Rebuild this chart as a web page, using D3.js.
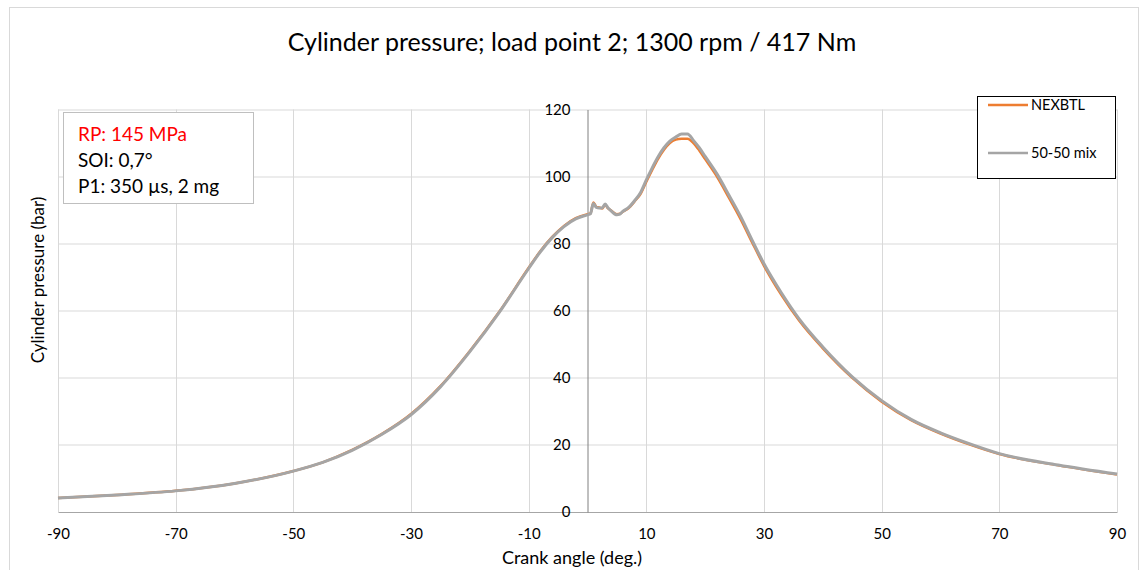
<!DOCTYPE html>
<html>
<head>
<meta charset="utf-8">
<script src="https://cdn.jsdelivr.net/npm/d3@7"></script>
<style>
  body { margin: 0; background: #fff; }
  text { font-family: Lato, "Open Sans", sans-serif; fill: #000; }
</style>
</head>
<body>
<div id="chart"></div>
<script>
// crank angle (deg.) and cylinder pressure (bar)
const crankAngle = [-90, -80, -70, -60, -50, -45, -40, -35, -30, -25, -20, -15, -10, -8, -6, -4, -2, 0, 0.5, 1, 1.5, 2, 2.5, 3, 3.5, 4, 5, 5.5, 6, 7, 8, 9, 10, 11, 12, 13, 14, 15, 16, 17, 18, 19, 20, 22, 24, 26, 28, 30, 33, 36, 40, 45, 50, 55, 60, 65, 70, 80, 90];
const nexbtl = [4.2, 5.1, 6.3, 8.5, 12.2, 14.8, 18.5, 23.2, 29.2, 37.5, 48.0, 59.7, 72.8, 77.8, 82.0, 85.3, 87.6, 88.8, 89.0, 92.3, 91.0, 90.8, 90.5, 91.6, 90.5, 89.9, 88.8, 88.9, 89.5, 90.6, 92.6, 94.8, 98.5, 102.0, 105.3, 108.0, 110.0, 111.0, 111.3, 111.3, 110.0, 107.8, 105.2, 100.0, 93.8, 87.4, 80.3, 73.4, 64.6, 57.0, 48.8, 40.0, 32.9, 27.4, 23.4, 20.1, 17.3, 13.9, 11.2];
const mix5050 = [4.2, 5.1, 6.3, 8.5, 12.2, 14.8, 18.4, 23.1, 29.0, 37.3, 47.8, 59.5, 72.6, 77.6, 81.8, 85.1, 87.4, 88.6, 88.9, 92.0, 90.8, 90.6, 90.7, 91.8, 90.6, 89.8, 88.6, 88.8, 89.6, 90.8, 92.8, 95.2, 99.0, 102.6, 105.9, 108.6, 110.6, 111.8, 112.7, 112.7, 110.8, 108.6, 106.0, 100.8, 94.6, 88.2, 81.0, 74.0, 65.2, 57.5, 49.2, 40.3, 33.2, 27.6, 23.6, 20.3, 17.4, 14.0, 11.3];

const seriesNames = ['NEXBTL', '50-50 mix'];
const seriesColors = ['#ed7d31', '#a5a5a5'];
const xTicks = [-90, -70, -50, -30, -10, 10, 30, 50, 70, 90];
const yTicks = [0, 20, 40, 60, 80, 100, 120];
const notes = ['RP: 145 MPa', 'SOI: 0,7°', 'P1: 350 µs, 2 mg'];

const W = 1140, H = 570;
const margin = { top: 109.5, right: 23, bottom: 58, left: 58 };
const width = W - margin.left - margin.right;
const height = H - margin.top - margin.bottom;

const svg = d3.select('#chart')
  .append('svg')
  .attr('width', W)
  .attr('height', H);

// chart area border
svg.append('rect')
  .attr('x', 9.5).attr('y', 7.5)
  .attr('width', 1129).attr('height', 600)
  .attr('fill', 'none')
  .attr('stroke', '#d9d9d9');

svg.append('text')
  .attr('x', 572)
  .attr('y', 51)
  .attr('text-anchor', 'middle')
  .style('font-size', '25px')
  .text('Cylinder pressure; load point 2; 1300 rpm / 417 Nm');

const g = svg.append('g')
  .attr('transform', `translate(${margin.left},${margin.top})`);

const x = d3.scaleLinear().domain([-90, 90]).range([0, width]);
const y = d3.scaleLinear().domain([0, 120]).range([height, 0]);

// gridlines
g.append('g')
  .selectAll('line')
  .data(xTicks)
  .join('line')
  .attr('x1', d => Math.round(x(d)) + 0.5)
  .attr('x2', d => Math.round(x(d)) + 0.5)
  .attr('y1', 0)
  .attr('y2', height)
  .attr('stroke', '#d9d9d9');

g.append('g')
  .selectAll('line')
  .data(yTicks.slice(1))
  .join('line')
  .attr('x1', 0)
  .attr('x2', width)
  .attr('y1', d => Math.round(y(d)) + 0.5)
  .attr('y2', d => Math.round(y(d)) + 0.5)
  .attr('stroke', '#d9d9d9');

// x axis (plain hyphen minus like the original)
const xAxis = g.append('g')
  .attr('transform', `translate(0,${height})`)
  .call(d3.axisBottom(x).tickValues(xTicks).tickFormat(d => String(d)).tickSize(0).tickPadding(16));
xAxis.select('.domain').attr('stroke', '#a6a6a6').attr('stroke-width', 1.2);
xAxis.selectAll('text').style('font-size', '15px').style('font-family', 'Lato, sans-serif');

// y axis sits at crank angle 0
const yAxis = g.append('g')
  .attr('transform', `translate(${x(0)},0)`)
  .call(d3.axisLeft(y).tickValues(yTicks).tickSize(0).tickPadding(17));
yAxis.select('.domain').attr('stroke', '#808080');
yAxis.selectAll('text').style('font-size', '15px').style('font-family', 'Lato, sans-serif');

// lines
const line = d3.line()
  .x(d => x(d[0]))
  .y(d => y(d[1]))
  .curve(d3.curveMonotoneX);

const allSeries = [nexbtl, mix5050];
allSeries.forEach((vals, i) => {
  g.append('path')
    .datum(crankAngle.map((a, j) => [a, vals[j]]))
    .attr('fill', 'none')
    .attr('stroke', seriesColors[i])
    .attr('stroke-width', i === 0 ? 2.5 : 3)
    .attr('stroke-linejoin', 'round')
    .attr('d', line);
});

// axis titles
svg.append('text')
  .attr('x', 572)
  .attr('y', 564)
  .attr('text-anchor', 'middle')
  .style('font-size', '18px')
  .text('Crank angle (deg.)');

svg.append('text')
  .attr('transform', 'translate(44,280) rotate(-90)')
  .attr('text-anchor', 'middle')
  .style('font-size', '17px')
  .text('Cylinder pressure (bar)');

// legend
const legend = svg.append('g');
legend.append('rect')
  .attr('x', 977.5).attr('y', 96.5)
  .attr('width', 138).attr('height', 82)
  .attr('fill', '#fff')
  .attr('stroke', '#000');

const item = legend.selectAll('.item')
  .data(seriesNames)
  .join('g')
  .attr('transform', (d, i) => `translate(0,${105 + i * 48})`);

item.append('line')
  .attr('x1', 988).attr('x2', 1028)
  .attr('stroke', (d, i) => seriesColors[i])
  .attr('stroke-width', 2.5);

item.append('text')
  .attr('x', 1031)
  .attr('dy', '0.35em')
  .style('font-size', '14.5px')
  .text(d => d);

// annotation box
svg.append('rect')
  .attr('x', 63.5).attr('y', 112.5)
  .attr('width', 190).attr('height', 91)
  .attr('fill', '#fff')
  .attr('stroke', '#bfbfbf');

svg.append('g')
  .selectAll('text')
  .data(notes)
  .join('text')
  .attr('x', 78)
  .attr('y', (d, i) => 141 + i * 26)
  .style('fill', (d, i) => i === 0 ? '#ff0000' : '#000')
  .style('font-size', '19px')
  .text(d => d);
</script>
</body>
</html>
